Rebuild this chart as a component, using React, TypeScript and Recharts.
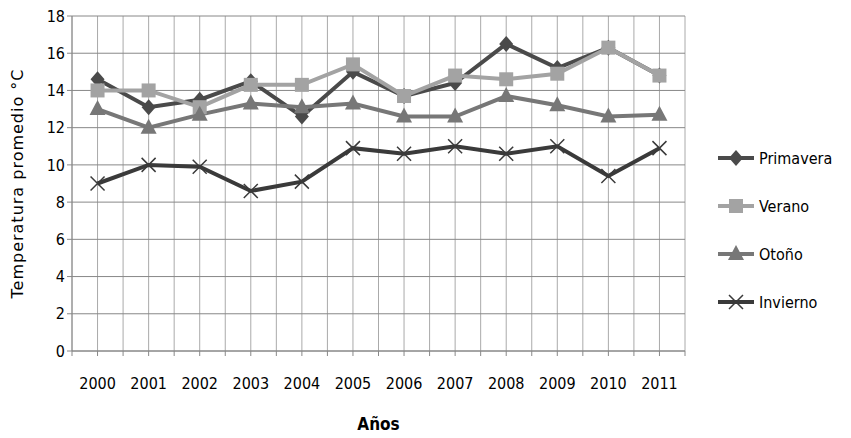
import React from 'react';
import { LineChart, Line, XAxis, YAxis, CartesianGrid, Label } from 'recharts';

const years = ['2000','2001','2002','2003','2004','2005','2006','2007','2008','2009','2010','2011'];
const primavera = [14.6, 13.1, 13.5, 14.5, 12.6, 15.0, 13.7, 14.4, 16.5, 15.2, 16.3, 14.8];
const verano = [14.0, 14.0, 13.1, 14.3, 14.3, 15.4, 13.7, 14.8, 14.6, 14.9, 16.3, 14.8];
const otono = [13.0, 12.0, 12.7, 13.3, 13.1, 13.3, 12.6, 12.6, 13.7, 13.2, 12.6, 12.7];
const invierno = [9.0, 10.0, 9.9, 8.6, 9.1, 10.9, 10.6, 11.0, 10.6, 11.0, 9.4, 10.9];
const yTicks = [0, 2, 4, 6, 8, 10, 12, 14, 16, 18];

const data = years.map((y, i) => ({ i, year: y, primavera: primavera[i], verano: verano[i], otono: otono[i], invierno: invierno[i] }));
const xTicks: number[] = [];
for (let k = -0.5; k <= 11.5; k += 0.5) xTicks.push(k);

const C = { p: '#4a4a4a', v: '#a3a3a3', o: '#777777', i: '#3a3a3a' };
const FONT = '"DejaVu Sans Condensed", "Liberation Sans Narrow", Arial, sans-serif';

function marker(kind: string, x: number, y: number, color: string) {
  if (kind === 'diamond') return <path d={`M${x},${y-8}L${x+7},${y}L${x},${y+8}L${x-7},${y}Z`} fill={color} />;
  if (kind === 'square') return <rect x={x-7} y={y-7} width={14} height={14} fill={color} />;
  if (kind === 'triangle') return <path d={`M${x},${y-9}L${x+8},${y+6}L${x-8},${y+6}Z`} fill={color} />;
  return <path d={`M${x-7},${y-7}L${x+7},${y+7}M${x+7},${y-7}L${x-7},${y+7}`} stroke={color} strokeWidth={1.5} fill="none" />;
}
const dot = (kind: string, color: string) => (props: any) => {
  const { cx, cy, index } = props;
  if (cx == null || cy == null) return <g key={index} />;
  return <g key={index}>{marker(kind, cx, cy, color)}</g>;
};

const legendItems = [
  { name: 'Primavera', kind: 'diamond', color: C.p },
  { name: 'Verano', kind: 'square', color: C.v },
  { name: 'Otoño', kind: 'triangle', color: C.o },
  { name: 'Invierno', kind: 'x', color: C.i },
];

export default function App() {
  return (
    <div style={{ position: 'absolute', left: 0, top: 0, width: 851, height: 438, background: '#fff' }}>
      <LineChart width={851} height={438} data={data} margin={{ top: 16, right: 166, left: 32, bottom: 22 }}>
        <CartesianGrid stroke="#aaaaaa" horizontal={false} />
        <CartesianGrid stroke="#888888" vertical={false} />
        <XAxis dataKey="i" type="number" domain={[-0.5, 11.5]} ticks={xTicks} interval={0}
          tickFormatter={(v: number) => (Number.isInteger(v) ? years[v] : '')}
          tick={{ fontSize: 16, fill: '#000', fontFamily: FONT, dy: 20 } as any}
          stroke="#888888" tickSize={5} height={65}>
          <Label value="Años" position="insideBottom" offset={0} dy={14} style={{ fontSize: 17, fontWeight: 'bold', fill: '#000', fontFamily: FONT }} />
        </XAxis>
        <YAxis domain={[0, 18]} ticks={yTicks} interval={0} width={40} stroke="#888888" tickSize={5}
          tick={{ fontSize: 16, fill: '#000', fontFamily: FONT }}>
          <Label value="Temperatura promedio °C" angle={-90} position="insideLeft" dx={-20} style={{ textAnchor: 'middle', fontSize: 16, fill: '#000', fontFamily: 'DejaVu Sans, sans-serif', letterSpacing: 1 }} />
        </YAxis>
        <Line dataKey="primavera" name="Primavera" stroke={C.p} strokeWidth={4} dot={dot('diamond', C.p)} isAnimationActive={false} />
        <Line dataKey="verano" name="Verano" stroke={C.v} strokeWidth={4} dot={dot('square', C.v)} isAnimationActive={false} />
        <Line dataKey="otono" name="Otoño" stroke={C.o} strokeWidth={4} dot={dot('triangle', C.o)} isAnimationActive={false} />
        <Line dataKey="invierno" name="Invierno" stroke={C.i} strokeWidth={4} dot={dot('x', C.i)} isAnimationActive={false} />
      </LineChart>
      <svg width={135} height={170} style={{ position: 'absolute', left: 716, top: 148 }}>
        {legendItems.map((it, k) => {
          const y = 10 + k * 48;
          return (
            <g key={it.name}>
              <line x1={2} x2={38} y1={y} y2={y} stroke={it.color} strokeWidth={4} />
              {marker(it.kind, 20, y, it.color)}
              <text x={43} y={y + 6} fontSize={16} fontFamily={FONT} fill="#000">{it.name}</text>
            </g>
          );
        })}
      </svg>
    </div>
  );
}
